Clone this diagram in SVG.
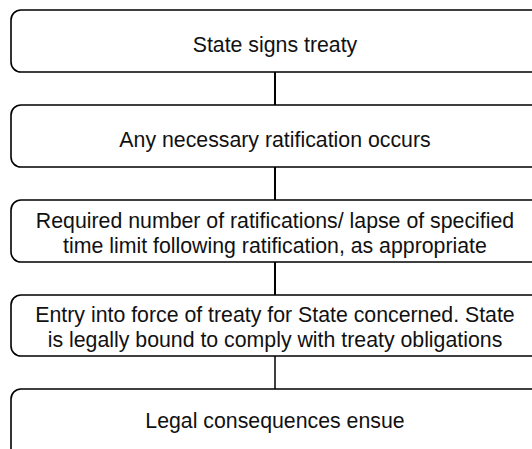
<svg xmlns="http://www.w3.org/2000/svg" width="532" height="449" viewBox="0 0 532 449">
  <style>
    .box { fill: #ffffff; stroke: #000000; stroke-width: 1.6; }
    .lbl { font-family: "Liberation Sans", Arial, Helvetica, sans-serif; font-size: 21.3px; fill: #111111; text-anchor: middle; }
    .link { stroke: #000000; stroke-width: 2; fill: none; }
  </style>
  <rect width="532" height="449" fill="#ffffff"/>

  <g id="connectors">
    <line class="link" x1="275" y1="72" x2="275" y2="105"/>
    <line class="link" x1="275" y1="167" x2="275" y2="200"/>
    <line class="link" x1="275" y1="262" x2="275" y2="295"/>
    <line class="link" x1="275" y1="356" x2="275" y2="389" style="stroke-width:1.5"/>
  </g>

  <g id="sign">
    <rect class="box" x="11" y="10" width="530" height="62" rx="10"/>
    <text class="lbl" x="275" y="52">State signs treaty</text>
  </g>

  <g id="ratify">
    <rect class="box" x="11" y="105" width="530" height="62" rx="10"/>
    <text class="lbl" x="275" y="147">Any necessary ratification occurs</text>
  </g>

  <g id="threshold">
    <rect class="box" x="11" y="200" width="530" height="62" rx="10"/>
    <text class="lbl" x="275" y="228">Required number of ratifications/ lapse of specified</text>
    <text class="lbl" x="275" y="253">time limit following ratification, as appropriate</text>
  </g>

  <g id="entry">
    <rect class="box" x="11" y="295" width="530" height="61" rx="10"/>
    <text class="lbl" x="275" y="322">Entry into force of treaty for State concerned. State</text>
    <text class="lbl" x="275" y="347">is legally bound to comply with treaty obligations</text>
  </g>

  <g id="consequences">
    <rect class="box" x="11" y="389" width="530" height="80" rx="10"/>
    <text class="lbl" x="275" y="428">Legal consequences ensue</text>
  </g>
</svg>
